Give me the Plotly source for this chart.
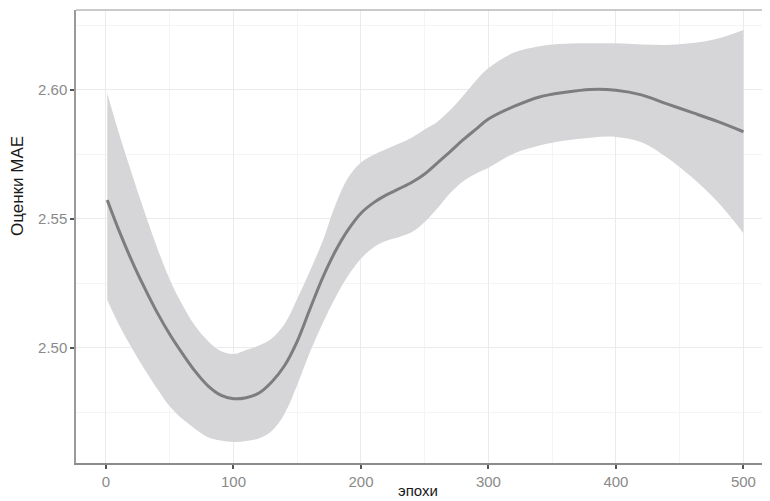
import plotly.graph_objects as go

# epochs (x) and smoothed MAE estimate with confidence band
epochs = [1, 10, 20, 30, 40, 50, 60, 70, 80, 90, 100, 110, 120, 130, 140, 150, 160, 170, 180, 190,
          200, 210, 220, 230, 240, 250, 260, 270, 280, 290, 300, 320, 340, 360, 380, 400, 420, 440,
          460, 480, 500]
mae_fit = [2.5573, 2.5457, 2.5340, 2.5235, 2.5138, 2.5052, 2.4977, 2.4908, 2.4852, 2.4816, 2.4802,
           2.4806, 2.4824, 2.4867, 2.4930, 2.5025, 2.5150, 2.5272, 2.5375, 2.5458, 2.5522, 2.5563,
           2.5593, 2.5617, 2.5642, 2.5674, 2.5717, 2.5761, 2.5806, 2.5847, 2.5887, 2.5936, 2.5973,
           2.5991, 2.6002, 2.5999, 2.5981, 2.5946, 2.5912, 2.5877, 2.5838]
mae_upper = [2.5987, 2.5835, 2.5680, 2.5530, 2.5390, 2.5265, 2.5166, 2.5084, 2.5026, 2.4987, 2.4976,
             2.4991, 2.5009, 2.5036, 2.5091, 2.5190, 2.5298, 2.5414, 2.5555, 2.5660, 2.5719, 2.5749,
             2.5771, 2.5792, 2.5816, 2.5847, 2.5877, 2.5922, 2.5977, 2.6035, 2.6085, 2.6145, 2.6170,
             2.6179, 2.6181, 2.6181, 2.6177, 2.6175, 2.6182, 2.6200, 2.6233]
mae_lower = [2.5185, 2.5091, 2.5001, 2.4918, 2.4842, 2.4773, 2.4723, 2.4685, 2.4653, 2.4640, 2.4634,
             2.4638, 2.4648, 2.4677, 2.4743, 2.4855, 2.4983, 2.5095, 2.5195, 2.5280, 2.5345, 2.5390,
             2.5415, 2.5430, 2.5449, 2.5488, 2.5541, 2.5600, 2.5645, 2.5675, 2.5698, 2.5754, 2.5785,
             2.5804, 2.5815, 2.5818, 2.5797, 2.5738, 2.5659, 2.5564, 2.5444]

x_ticks = [0, 100, 200, 300, 400, 500]
y_ticks = [2.50, 2.55, 2.60]
y_tick_text = ["2.50", "2.55", "2.60"]

x_title = "эпохи"
y_title = "Оценки МАЕ"

FONT = "Liberation Sans, Arial, sans-serif"

# the page body adds an 8px offset, so the layout is laid out 8px up/left
L, T, B = 68, 2, 46
W, H = 770, 501
PW, PH = W - L, H - T - B

fig = go.Figure()
fig.add_trace(go.Scatter(x=epochs, y=mae_lower, mode="lines", line=dict(width=0, shape="spline"),
                         hoverinfo="skip", showlegend=False))
fig.add_trace(go.Scatter(x=epochs, y=mae_upper, mode="lines", line=dict(width=0, shape="spline"),
                         fill="tonexty", fillcolor="#d6d6d8", hoverinfo="skip", showlegend=False))
fig.add_trace(go.Scatter(x=epochs, y=mae_fit, mode="lines",
                         line=dict(color="#7d7d7f", width=3, shape="spline"), showlegend=False))

fig.update_layout(
    width=W, height=H,
    margin=dict(l=L, r=0, t=T, b=B),
    paper_bgcolor="white", plot_bgcolor="white",
    font=dict(family=FONT, size=15, color="#8a8a8a"),
    xaxis=dict(range=[-23.5, 527.1], tickvals=x_ticks, showgrid=True, gridcolor="#ebebeb", gridwidth=1,
               minor=dict(dtick=50, tick0=0, showgrid=True, gridcolor="#f4f4f4", gridwidth=1, ticklen=0),
               zeroline=False, showline=True, linecolor="#8c8c8c", linewidth=1.5, automargin=False,
               ticks="outside", ticklen=4, tickwidth=1.5, tickcolor="#555555",
               tickfont=dict(family=FONT, size=15, color="#8a8a8a")),
    yaxis=dict(range=[2.45526, 2.63104], tickvals=y_ticks, ticktext=y_tick_text, showgrid=True,
               gridcolor="#ebebeb", gridwidth=1,
               minor=dict(dtick=0.025, tick0=2.475, showgrid=True, gridcolor="#f4f4f4", gridwidth=1, ticklen=0),
               zeroline=False, showline=True, linecolor="#9a9a9a", linewidth=1.5, automargin=False,
               ticks="outside", ticklen=4, tickwidth=1.5, tickcolor="#555555",
               tickfont=dict(family=FONT, size=15, color="#8a8a8a")),
    shapes=[dict(type="line", xref="paper", yref="paper", x0=0, x1=1, y0=1, y1=1,
                 line=dict(color="#b8b8b8", width=1.5))],
    annotations=[
        dict(text=x_title, xref="paper", yref="paper", x=(410 - L) / PW, y=-(472 - (H - B)) / PH,
             xanchor="center", yanchor="top", showarrow=False,
             font=dict(family=FONT, size=15, color="#1a1a1a")),
        dict(text=y_title, xref="paper", yref="paper", x=-(L - 9) / PW, y=((H - B) - 178) / PH,
             xanchor="center", yanchor="middle", textangle=-90, showarrow=False,
             font=dict(family=FONT, size=17, color="#1a1a1a")),
    ],
)

fig.write_html("out.html")
